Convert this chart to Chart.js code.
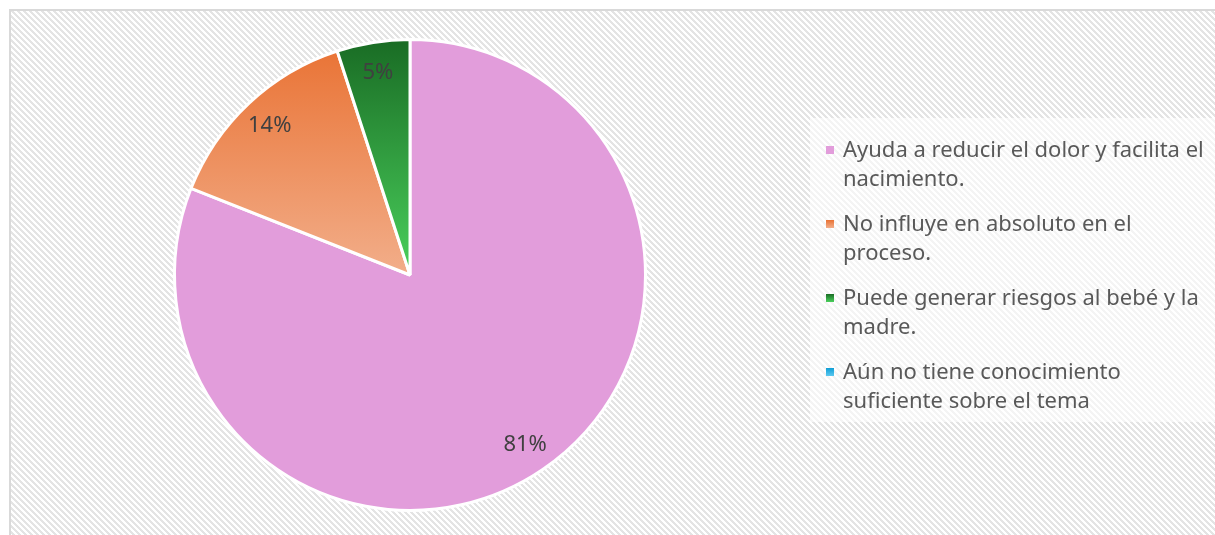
<!DOCTYPE html>
<html>
<head>
<meta charset="utf-8">
<script src="https://cdn.jsdelivr.net/npm/chart.js@4/dist/chart.umd.min.js"></script>
<style>
  html, body { margin: 0; padding: 0; background: #fff; }
  #chart { display: block; }
</style>
</head>
<body>
<canvas id="chart" width="1215" height="535"></canvas>
<script>
// data
const categories = [
    ['Ayuda a reducir el dolor y facilita el', 'nacimiento.'],
    ['No influye en absoluto en el', 'proceso.'],
    ['Puede generar riesgos al bebé y la', 'madre.'],
    ['Aún no tiene conocimiento', 'suficiente sobre el tema']
];
const percentages = [81, 14, 5, 0];

// fill colours: [top, bottom] of each slice gradient
const sliceColors = [
    ['#E29DDB', '#E29DDB'],
    ['#E97132', '#F2AE8A'],
    ['#196B24', '#4AD05C'],
    ['#0F9ED5', '#5CC8F0']
];

const FONT = '"Noto Sans", "Open Sans", sans-serif';

function makeHatch(ctx) {
    const p = document.createElement('canvas');
    p.width = 6; p.height = 6;
    const pc = p.getContext('2d');
    pc.fillStyle = '#ffffff';
    pc.fillRect(0, 0, 6, 6);
    pc.fillStyle = '#e4e4e4';
    for (let y = 0; y < 6; y++) {
        for (let x = 0; x < 6; x++) {
            if (((x - y) % 6 + 6) % 6 < 3) pc.fillRect(x, y, 1, 1);
        }
    }
    return ctx.createPattern(p, 'repeat');
}

function sliceFill(c) {
    const chart = c.chart;
    const area = chart.chartArea;
    const pair = sliceColors[c.dataIndex];
    if (!area) return pair[0];
    const cy = (area.top + area.bottom) / 2;
    const r = Math.min(area.width, area.height) / 2;
    const g = chart.ctx.createLinearGradient(0, cy - r, 0, cy);
    g.addColorStop(0, pair[0]);
    g.addColorStop(1, pair[1]);
    return g;
}

const backgroundPlugin = {
    id: 'hatchBackground',
    beforeDraw(chart) {
        const ctx = chart.ctx;
        ctx.save();
        ctx.fillStyle = '#ffffff';
        ctx.fillRect(0, 0, chart.width, chart.height);
        ctx.fillStyle = makeHatch(ctx);
        ctx.fillRect(11, 11, chart.width - 11, chart.height - 11);
        ctx.strokeStyle = '#d9d9d9';
        ctx.lineWidth = 2;
        ctx.beginPath();
        ctx.moveTo(10, chart.height + 5);
        ctx.lineTo(10, 10);
        ctx.lineTo(chart.width + 5, 10);
        ctx.stroke();
        // legend panel
        ctx.fillStyle = 'rgba(255,255,255,0.6)';
        ctx.fillRect(810, 118, chart.width - 810, 304);
        ctx.restore();
    }
};

const sliceLabelPlugin = {
    id: 'sliceLabels',
    afterDatasetsDraw(chart) {
        const ctx = chart.ctx;
        const meta = chart.getDatasetMeta(0);
        ctx.save();
        ctx.font = '22px ' + FONT;
        ctx.fillStyle = '#404040';
        ctx.textAlign = 'center';
        ctx.textBaseline = 'middle';
        meta.data.forEach((arc, i) => {
            if (!percentages[i]) return;
            const p = arc.getProps(['x', 'y', 'startAngle', 'endAngle', 'outerRadius'], true);
            const mid = (p.startAngle + p.endAngle) / 2;
            const d = p.outerRadius * 0.87;
            ctx.fillText(percentages[i] + '%', p.x + Math.cos(mid) * d, p.y + Math.sin(mid) * d);
        });
        ctx.restore();
    }
};

const legendPlugin = {
    id: 'sideLegend',
    afterDraw(chart) {
        const ctx = chart.ctx;
        const x0 = 826, textX = 843, firstBase = 157, lineH = 29, itemH = 74;
        ctx.save();
        ctx.font = '22px ' + FONT;
        ctx.textBaseline = 'alphabetic';
        categories.forEach((lines, i) => {
            const base = firstBase + i * itemH;
            const g = ctx.createLinearGradient(0, base - 11, 0, base - 3);
            g.addColorStop(0, sliceColors[i][0]);
            g.addColorStop(1, sliceColors[i][1]);
            ctx.fillStyle = g;
            ctx.fillRect(x0, base - 11, 8, 8);
            ctx.fillStyle = '#595959';
            lines.forEach((t, j) => ctx.fillText(t, textX, base + j * lineH));
        });
        ctx.restore();
    }
};

new Chart(document.getElementById('chart'), {
    type: 'pie',
    data: {
        labels: categories.map(l => l.join(' ')),
        datasets: [{
            data: percentages,
            backgroundColor: sliceFill,
            borderColor: '#ffffff',
            borderWidth: 3
        }]
    },
    options: {
        responsive: false,
        devicePixelRatio: 1,
        animation: false,
        layout: { padding: { left: 173, right: 568, top: 38, bottom: 23 } },
        plugins: {
            legend: { display: false },
            tooltip: { enabled: false }
        }
    },
    plugins: [backgroundPlugin, sliceLabelPlugin, legendPlugin]
});
</script>
</body>
</html>
